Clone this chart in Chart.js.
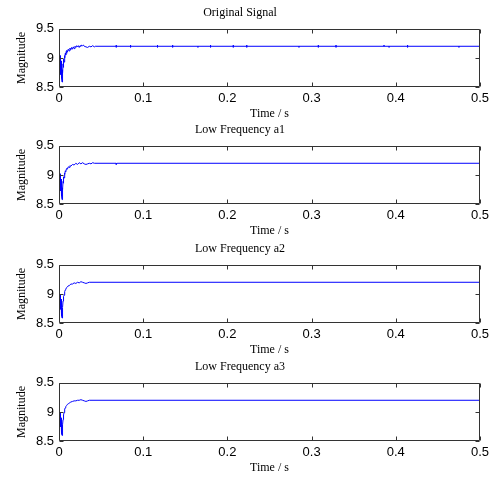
<!DOCTYPE html>
<html lang="en">
<head>
  <meta charset="UTF-8" />
  <title>Signal decomposition</title>
  <script src="https://cdn.jsdelivr.net/npm/chart.js"></script>
  <style>
    html, body { margin: 0; padding: 0; background: #fff; overflow: hidden; }
    #wrap { position: relative; width: 493px; height: 477px; }
    canvas { position: absolute; left: 0; }
  </style>
</head>
<body>
  <div id="wrap">
    <canvas id="c0" width="493" height="125" style="top:0px"></canvas>
    <canvas id="c1" width="493" height="125" style="top:117px"></canvas>
    <canvas id="c2" width="493" height="125" style="top:236px"></canvas>
    <canvas id="c3" width="493" height="125" style="top:354px"></canvas>
  </div>

  <script>
    // tick labels
    const xTicks = [0, 0.1, 0.2, 0.3, 0.4, 0.5];
    const yTicks = [8.5, 9, 9.5];
    const titles = ['Original Signal', 'Low Frequency a1', 'Low Frequency a2', 'Low Frequency a3'];

    // [time (s), magnitude]
    // original signal: start-up transient, then ~9.2 with small glitches
    const original = [
      [0, 9.22], [0.0003, 8.82], [0.0006, 9.06], [0.0009, 8.78], [0.0012, 9.04], [0.0015, 8.75],
      [0.0018, 9.00], [0.0021, 8.72], [0.0024, 8.95], [0.0027, 8.70], [0.0030, 8.90], [0.0033, 8.66],
      [0.0036, 8.59], [0.0040, 8.80], [0.0044, 8.74], [0.0048, 8.90], [0.0052, 8.84], [0.0056, 8.98],
      [0.0060, 8.93], [0.0065, 9.04], [0.0070, 9.00], [0.0075, 9.08], [0.0080, 9.05], [0.0085, 9.11],
      [0.0090, 9.08], [0.0095, 9.13], [0.0100, 9.10], [0.0110, 9.15], [0.0120, 9.12], [0.0130, 9.17],
      [0.0140, 9.14], [0.0150, 9.18], [0.0160, 9.15], [0.0170, 9.19], [0.0180, 9.16], [0.0190, 9.20],
      [0.0200, 9.18], [0.0210, 9.21], [0.0220, 9.19], [0.0230, 9.21], [0.0240, 9.18], [0.0250, 9.21],
      [0.0260, 9.20], [0.0270, 9.22], [0.0280, 9.21], [0.0290, 9.22], [0.0300, 9.20], [0.0320, 9.19],
      [0.0340, 9.18], [0.0360, 9.20], [0.0380, 9.19], [0.0400, 9.21], [0.0420, 9.19], [0.0430, 9.20],
      [0.068, 9.20], [0.068, 9.22], [0.068, 9.18], [0.068, 9.20],
      [0.085, 9.20], [0.085, 9.22], [0.085, 9.18], [0.085, 9.20],
      [0.117, 9.20], [0.117, 9.22], [0.117, 9.18], [0.117, 9.20],
      [0.135, 9.20], [0.135, 9.22], [0.135, 9.18], [0.135, 9.20],
      [0.165, 9.20], [0.165, 9.18], [0.165, 9.20],
      [0.180, 9.20], [0.180, 9.22], [0.180, 9.18], [0.180, 9.20],
      [0.207, 9.20], [0.207, 9.22], [0.207, 9.18], [0.207, 9.20],
      [0.223, 9.20], [0.223, 9.22], [0.223, 9.18], [0.223, 9.20],
      [0.285, 9.20], [0.285, 9.18], [0.285, 9.20],
      [0.308, 9.20], [0.308, 9.22], [0.308, 9.18], [0.308, 9.20],
      [0.329, 9.20], [0.329, 9.22], [0.329, 9.18], [0.329, 9.20],
      [0.386, 9.20], [0.386, 9.22], [0.386, 9.20],
      [0.392, 9.20], [0.392, 9.18], [0.392, 9.20],
      [0.414, 9.20], [0.414, 9.22], [0.414, 9.18], [0.414, 9.20],
      [0.475, 9.20], [0.475, 9.18], [0.475, 9.20],
      [0.5, 9.20]
    ];

    // approximation a1
    const lowA1 = [
      [0, 9.22], [0.0003, 8.84], [0.0006, 9.05], [0.0009, 8.80], [0.0012, 9.02], [0.0015, 8.76],
      [0.0018, 8.98], [0.0021, 8.73], [0.0024, 8.93], [0.0027, 8.70], [0.0030, 8.88], [0.0033, 8.64],
      [0.0036, 8.58], [0.0040, 8.78], [0.0044, 8.75], [0.0048, 8.89], [0.0052, 8.86], [0.0056, 8.97],
      [0.0060, 8.95], [0.0065, 9.03], [0.0070, 9.01], [0.0075, 9.07], [0.0080, 9.06], [0.0090, 9.11],
      [0.0100, 9.10], [0.0110, 9.14], [0.0120, 9.13], [0.0130, 9.16], [0.0140, 9.15], [0.0160, 9.18],
      [0.0180, 9.17], [0.0200, 9.20], [0.0220, 9.18], [0.0240, 9.21], [0.0260, 9.19], [0.0280, 9.21],
      [0.0300, 9.19], [0.0320, 9.18], [0.0340, 9.19], [0.0360, 9.20], [0.0380, 9.19], [0.0400, 9.21],
      [0.0420, 9.20], [0.068, 9.20], [0.068, 9.18], [0.069, 9.20], [0.5, 9.20]
    ];

    // approximation a2
    const lowA2 = [
      [0, 9.22], [0.0003, 8.86], [0.0006, 9.03], [0.0009, 8.82], [0.0012, 9.00], [0.0015, 8.78],
      [0.0018, 8.96], [0.0021, 8.74], [0.0024, 8.91], [0.0027, 8.70], [0.0030, 8.84], [0.0033, 8.63],
      [0.0036, 8.59], [0.0040, 8.76], [0.0044, 8.77], [0.0048, 8.88], [0.0052, 8.89], [0.0056, 8.96],
      [0.0060, 8.98], [0.0065, 9.03], [0.0070, 9.04], [0.0075, 9.07], [0.0080, 9.08], [0.0090, 9.11],
      [0.0100, 9.12], [0.0110, 9.14], [0.0120, 9.14], [0.0140, 9.17], [0.0160, 9.17], [0.0180, 9.19],
      [0.0200, 9.18], [0.0220, 9.20], [0.0240, 9.19], [0.0260, 9.21], [0.0280, 9.20], [0.0300, 9.19],
      [0.0320, 9.18], [0.0340, 9.19], [0.0360, 9.20], [0.5, 9.20]
    ];

    // approximation a3
    const lowA3 = [
      [0, 9.22], [0.0003, 8.87], [0.0006, 9.02], [0.0009, 8.83], [0.0012, 8.99], [0.0015, 8.79],
      [0.0018, 8.95], [0.0021, 8.75], [0.0024, 8.90], [0.0027, 8.71], [0.0030, 8.83], [0.0033, 8.63],
      [0.0036, 8.60], [0.0040, 8.75], [0.0044, 8.78], [0.0048, 8.87], [0.0052, 8.90], [0.0056, 8.95],
      [0.0060, 8.99], [0.0065, 9.02], [0.0070, 9.05], [0.0075, 9.07], [0.0080, 9.09], [0.0090, 9.11],
      [0.0100, 9.13], [0.0110, 9.14], [0.0120, 9.15], [0.0140, 9.17], [0.0160, 9.18], [0.0180, 9.19],
      [0.0200, 9.19], [0.0220, 9.20], [0.0240, 9.20], [0.0260, 9.21], [0.0280, 9.20], [0.0300, 9.19],
      [0.0320, 9.18], [0.0340, 9.19], [0.0360, 9.20], [0.5, 9.20]
    ];

    const series = [original, lowA1, lowA2, lowA3];

    const axisColor = '#333';
    const serif = 'Liberation Serif';
    const sans = 'Liberation Sans';

    // MATLAB-like box with inward ticks on all four sides
    const boxTicks = {
      id: 'boxTicks',
      afterDraw(chart) {
        const { ctx, chartArea: a, scales: { x, y } } = chart;
        const L = Math.round(a.left) + 0.5, R = Math.round(a.right) - 0.5;
        const T = Math.round(a.top) + 0.5, B = Math.round(a.bottom) - 0.5;
        const len = 4;
        ctx.save();
        ctx.strokeStyle = axisColor;
        ctx.lineWidth = 1;
        ctx.beginPath();
        ctx.rect(L, T, R - L, B - T);
        x.ticks.forEach(t => {
          const px = Math.round(x.getPixelForValue(t.value)) + 0.5;
          ctx.moveTo(px, B); ctx.lineTo(px, B - len);
          ctx.moveTo(px, T); ctx.lineTo(px, T + len);
        });
        y.ticks.forEach(t => {
          const py = Math.round(y.getPixelForValue(t.value)) + 0.5;
          ctx.moveTo(L, py); ctx.lineTo(L + len, py);
          ctx.moveTo(R, py); ctx.lineTo(R - len, py);
        });
        ctx.stroke();
        ctx.restore();
      }
    };

    function makeChart(i) {
      const pts = series[i].map(([t, v]) => ({ x: t, y: v }));
      return new Chart(document.getElementById('c' + i), {
        type: 'scatter',
        data: {
          datasets: [{
            data: pts,
            showLine: true,
            borderColor: '#0000ff',
            borderWidth: 1,
            pointRadius: 0,
            tension: 0
          }]
        },
        options: {
          responsive: false,
          animation: false,
          devicePixelRatio: 1,
          layout: { padding: { top: 0, left: 0, right: 13, bottom: 0 } },
          plugins: {
            legend: { display: false },
            tooltip: { enabled: false },
            title: {
              display: true,
              text: titles[i],
              color: '#000',
              font: { family: serif, size: 12, weight: 'normal' },
              padding: { top: 6, bottom: 8.3 }
            }
          },
          scales: {
            x: {
              type: 'linear',
              min: 0, max: 0.5,
              afterBuildTicks: s => { s.ticks = xTicks.map(v => ({ value: v })); },
              afterFit: s => { s.height = 37.7; },
              grid: { display: false, drawTicks: false },
              border: { display: false },
              ticks: { color: '#000', padding: 3, font: { family: sans, size: 13 }, callback: v => String(v) },
              title: {
                display: true, text: 'Time / s', color: '#000',
                font: { family: serif, size: 12 },
                padding: { top: 0, bottom: 4 }
              }
            },
            y: {
              type: 'linear',
              min: 8.5, max: 9.5,
              afterBuildTicks: s => { s.ticks = yTicks.map(v => ({ value: v })); },
              afterFit: s => { s.width = 59; },
              grid: { display: false, drawTicks: false },
              border: { display: false },
              ticks: { color: '#000', padding: 5, font: { family: sans, size: 13 }, callback: v => String(v) },
              title: {
                display: true, text: 'Magnitude', color: '#000',
                font: { family: serif, size: 12 },
                padding: { top: 15, bottom: 0 }
              }
            }
          }
        },
        plugins: [boxTicks]
      });
    }

    titles.forEach((_, i) => makeChart(i));
  </script>
</body>
</html>
